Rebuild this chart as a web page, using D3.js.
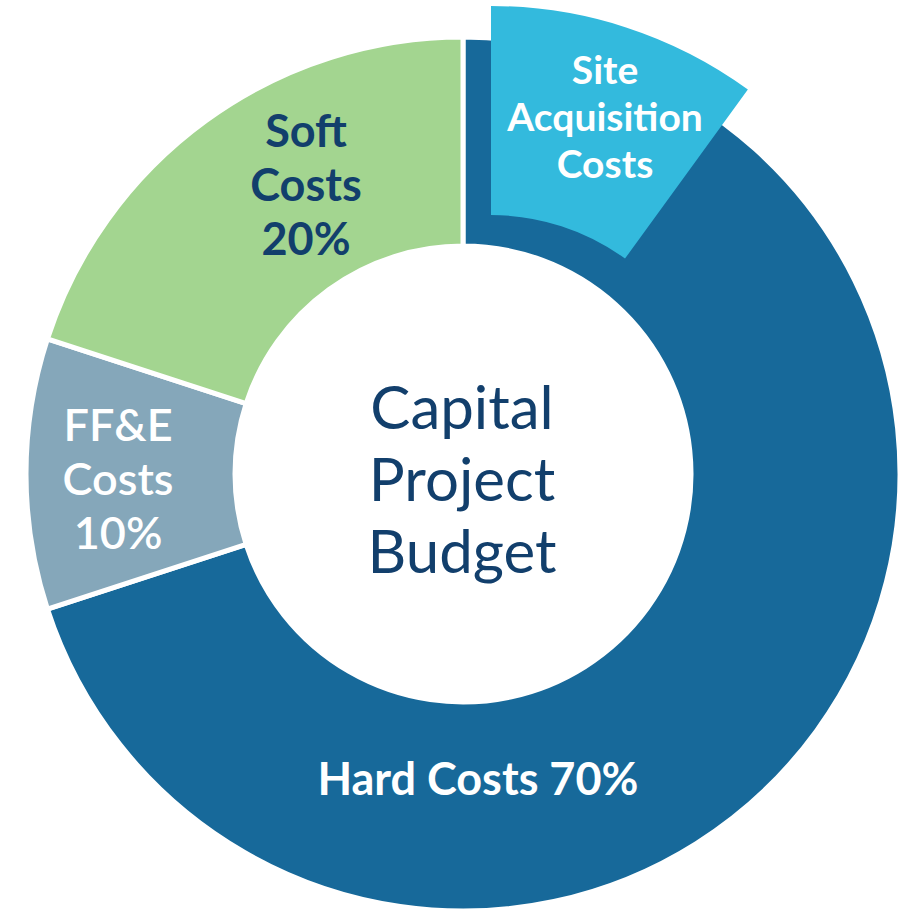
<!DOCTYPE html>
<html>
<head>
<meta charset="utf-8">
<script src="https://cdn.jsdelivr.net/npm/d3@7"></script>
<style>
  body { margin: 0; background: #fff; }
  svg { display: block; }
</style>
</head>
<body>
<div id="chart"></div>
<script>
// slice data
const categories = ["Hard Costs", "FF&E Costs", "Soft Costs"];
const shares = [70, 10, 20];
const labelLines = [["Hard Costs 70%"], ["FF&E", "Costs", "10%"], ["Soft", "Costs", "20%"]];
// pulled-out piece of the hard costs
const siteLabel = ["Site", "Acquisition", "Costs"];
const siteShare = 10;
const title = ["Capital", "Project", "Budget"];

const colors = ["#17699a", "#85a7ba", "#a3d590"];
const siteColor = "#33badd";
const navy = "#123f6c";

const width = 901, height = 912;
const cx = 463, cy = 474;
const outerR = 437, innerR = 228;

const svg = d3.select("#chart").append("svg")
    .attr("width", width)
    .attr("height", height);

const g = svg.append("g").attr("transform", "translate(" + cx + "," + cy + ")");

const pie = d3.pie().sort(null).value(d => d.value);
const arcs = pie(categories.map((c, i) => ({name: c, value: shares[i], lines: labelLines[i], color: colors[i]})));

const arc = d3.arc().innerRadius(innerR).outerRadius(outerR);

g.selectAll("path.slice")
    .data(arcs)
    .enter()
    .append("path")
    .attr("class", "slice")
    .attr("d", arc)
    .attr("fill", d => d.data.color)
    .attr("stroke", "#fff")
    .attr("stroke-width", 5);

// site acquisition wedge, nudged up and to the right
const total = d3.sum(shares);
const siteArc = {startAngle: 0, endAngle: 2 * Math.PI * siteShare / total};
const siteG = g.append("g").attr("transform", "translate(28,-31)");
siteG.append("path")
    .attr("d", arc(siteArc))
    .attr("fill", siteColor);

// label placement (angle in degrees, radius), font settings
const labelPos = [
    {angle: 177.2, r: 305, size: 45, lh: 54, weight: 700, fill: "#fff"},
    {angle: 269.2, r: 345, size: 45, lh: 54, weight: 600, fill: "#fff"},
    {angle: 331.5, r: 329, size: 45, lh: 54, weight: 700, fill: navy}
];

function drawBlock(parent, lines, x, y, size, lh, weight, fill) {
    const first = y - (lines.length - 1) * lh / 2 + 0.36 * size;
    const t = parent.append("text")
        .attr("text-anchor", "middle")
        .attr("font-family", "Lato, 'Open Sans', sans-serif")
        .attr("font-size", size)
        .attr("font-weight", weight)
        .attr("fill", fill);
    lines.forEach((l, i) => {
        t.append("tspan").attr("x", x).attr("y", first + i * lh).text(l);
    });
}

arcs.forEach((d, i) => {
    const p = labelPos[i];
    const [x, y] = d3.pointRadial(p.angle * Math.PI / 180, p.r);
    drawBlock(g, d.data.lines, x, y, p.size, p.lh, p.weight, p.fill);
});

const [sx, sy] = d3.pointRadial(19.3 * Math.PI / 180, 345);
drawBlock(siteG, siteLabel, sx, sy, 39, 47, 700, "#fff");

drawBlock(g, title, -1, 5, 60, 72, 400, navy);
</script>
</body>
</html>
